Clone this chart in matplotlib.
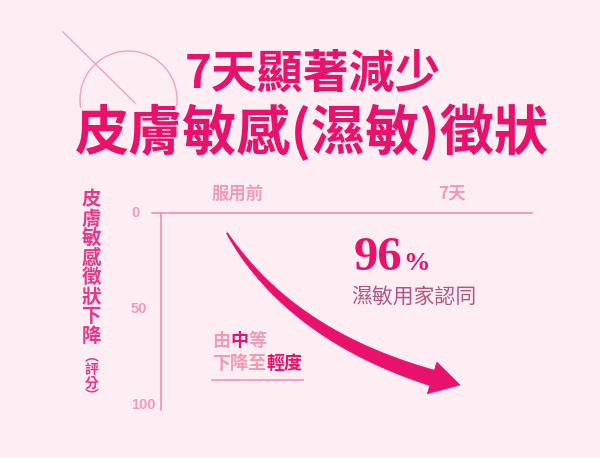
import numpy as np
import matplotlib.pyplot as plt
from matplotlib.path import Path
from matplotlib.patches import PathPatch, Arc
from matplotlib.transforms import IdentityTransform

plt.rcParams['font.family'] = ['Noto Sans CJK TC', 'DejaVu Sans']

# chart content
title_1 = "7天顯著減少"
title_2 = "皮膚敏感(濕敏)徵狀"
x_labels = ["服用前", "7天"]
x_days = [0, 7]
y_ticks = [0, 50, 100]
y_label_main = "皮膚敏感徵狀下降"
y_label_sub = "︵評分︶"
stat_value = "96"
stat_text = "濕敏用家認同"

# trend arrow (day, score)
arrow_start = (-0.36, 10.4)
arrow_bend = (1.70, 63.5)
arrow_end = (6.35, 85.9)
arrow_tip = (7.26, 89.6)

BG = "#fdeef4"
HOT = "#e8116b"
MID = "#e5388a"
LIGHT = "#f29bb5"
LINE = "#f08aa8"
SERIF = ["Liberation Serif", "DejaVu Serif"]

W, H = 600, 458
fig = plt.figure(figsize=(W / 100, H / 100), dpi=100, facecolor=BG)
ax = fig.add_axes([0, 0, 1, 1])
ax.set_facecolor(BG)
# pixel x = 238 + 30.57*day ; pixel y = 213 + 1.92*score
px_day, px_score = 30.57, 1.92
ax.set_xlim(-238 / px_day, (W - 238) / px_day)
ax.set_ylim((H - 213) / px_score, -213 / px_score)
ax.axis("off")
renderer = fig.canvas.get_renderer()
to_px = ax.transData.transform
to_data = ax.transData.inverted().transform


def text_right(txt):
    """right edge of a text item, in data x"""
    bb = txt.get_window_extent(renderer=renderer)
    return to_data([[bb.x1, bb.y0]])[0, 0]


# axes lines
ax.plot([-2.81, 9.62], [0, 0], color=LINE, lw=1.1)
ax.plot([-2.52, -2.52], [0, 102.5], color=LINE, lw=1.1)

for t in y_ticks:
    ax.text(-3.50, t, str(t), color=LIGHT, fontsize=10.5, fontweight="bold",
            ha="left", va="center", family=["Liberation Sans", "DejaVu Sans"])

for d, lab in zip(x_days, x_labels):
    ax.text(d, -10, lab, color=LIGHT, fontsize=12.5, fontweight="bold",
            ha="center", va="center")

# vertical y label, one char at a time
for i, ch in enumerate(y_label_main):
    ax.text(-4.79, -6.8 + i * 10.15, ch, color=MID, fontsize=14, fontweight="bold",
            ha="center", va="center")
for i, ch in enumerate(y_label_sub):
    ax.text(-4.79, 74.8 + i * 7.0, ch, color=MID, fontsize=10, fontweight="bold",
            ha="center", va="center")

# tapered arrow built in display space
p0, c, p2, tip = (to_px(p) for p in (arrow_start, arrow_bend, arrow_end, arrow_tip))
t = np.linspace(0, 1, 60)[:, None]
centre = (1 - t) ** 2 * p0 + 2 * t * (1 - t) * c + t ** 2 * p2
tang = 2 * (1 - t) * (c - p0) + 2 * t * (p2 - c)
tang = tang / np.linalg.norm(tang, axis=1, keepdims=True)
norm = np.column_stack([-tang[:, 1], tang[:, 0]])
half = 0.5 + 7.5 * t ** 0.8
upper = centre + norm * half
lower = centre - norm * half
head_n = norm[-1]
head_a = p2 + head_n * 16.5
head_b = p2 - head_n * 16.5
outline = np.vstack([upper, head_a, tip, head_b, lower[::-1], upper[:1]])
ax.add_patch(PathPatch(Path(to_data(outline), closed=True), facecolor=HOT,
                       edgecolor=HOT, lw=0.5, zorder=3))

# note under the curve (CJK glyphs advance one em each)
note_size = 13
em_days = note_size * 100 / 72 / px_day
note_rows = [[("由", LIGHT), ("中", HOT), ("等", LIGHT)],
             [("下降至", LIGHT), ("輕度", HOT)]]
for r, row in enumerate(note_rows):
    x0 = -0.85
    y0 = 66.2 + r * 12.0
    for s, col in row:
        ax.text(x0, y0, s, color=col, fontsize=note_size, fontweight="bold",
                ha="left", va="center")
        x0 += len(s) * em_days
ax.plot([-0.85, 2.14], [86.9, 86.9], color=LIGHT, lw=1.3)

# 96% statement
num = ax.text(3.77, 29.5, stat_value, color=HOT, fontsize=35, fontweight="bold",
              ha="left", va="baseline", family=SERIF)
ax.text(text_right(num) + 0.03, 29.5, "%", color=HOT, fontsize=19, fontweight="bold",
        ha="left", va="baseline", family=SERIF)
ax.text(3.70, 43.8, stat_text, color="#b2557f", fontsize=15,
        ha="left", va="center")

# title
fig.text(185 / W, 1 - 75 / H, title_1, color=HOT, fontsize=33, fontweight="bold",
         ha="left", va="center")
fig.text(312 / W, 1 - 133 / H, title_2, color=HOT, fontsize=39, fontweight="bold",
         ha="center", va="center")

# decoration: thin circle arc and slash
ax.add_patch(Arc((128.5, H - 99.5), 97, 97, theta1=-8, theta2=190,
                 transform=IdentityTransform(), color="#f2a3bb", lw=1.0))
slash = to_data(np.array([[63, H - 32], [135, H - 103]]))
ax.plot(slash[:, 0], slash[:, 1], color="#f2a3bb", lw=1.0)

fig.savefig("out.png", dpi=100, facecolor=BG)
